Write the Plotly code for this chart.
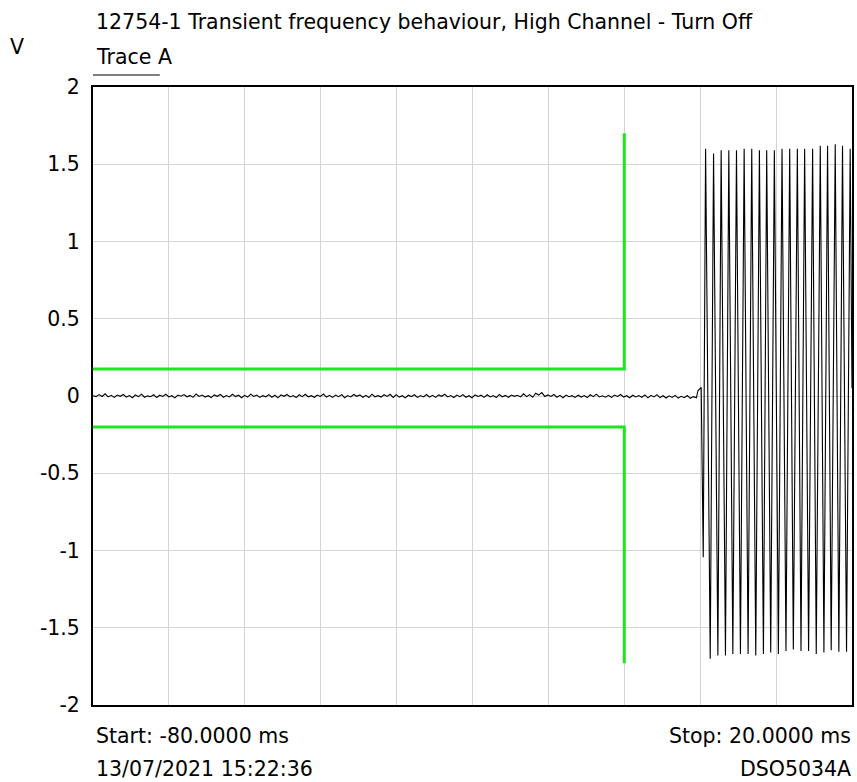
import numpy as np
import plotly.graph_objects as go

# ---------------- data ----------------
title_text = "12754-1 Transient frequency behaviour, High Channel - Turn Off"
trace_name = "Trace A"
y_unit = "V"
start_text = "Start: -80.0000 ms"
stop_text = "Stop: 20.0000 ms"
date_text = "13/07/2021 15:22:36"
scope_text = "DSO5034A"

y_tick_vals = [2, 1.5, 1, 0.5, 0, -0.5, -1, -1.5, -2]
y_tick_text = ["2", "1.5", "1", "0.5", "0", "-0.5", "-1", "-1.5", "-2"]

# flat noisy part before switch-off (V), -80 ms .. -0.5 ms
noise_v = [
    0.002, -0.004, 0.009, -0.003, 0.014, -0.006, 0.004, -0.009, 0.006, -0.002,
    0.010, -0.007, 0.003, -0.011, 0.007, -0.004, 0.012, -0.008, 0.001, -0.005,
    0.008, -0.010, 0.005, -0.003, 0.011, -0.006, 0.002, -0.012, 0.006, -0.001,
    0.009, -0.005, 0.004, -0.009, 0.013, -0.003, 0.006, -0.007, 0.002, -0.010,
    0.007, -0.002, 0.010, -0.008, 0.003, -0.006, 0.011, -0.004, 0.005, -0.011,
    0.004, -0.007, 0.012, -0.003, 0.006, -0.009, 0.002, -0.005, 0.009, -0.008,
    0.005, -0.012, 0.007, -0.002, 0.010, -0.006, 0.003, -0.010, 0.008, -0.004,
    0.011, -0.005, 0.002, -0.008, 0.006, -0.003, 0.013, -0.007, 0.004, -0.009,
    0.006, -0.004, 0.009, -0.011, 0.003, -0.006, 0.010, -0.002, 0.007, -0.008,
    0.004, -0.010, 0.012, -0.005, 0.002, -0.007, 0.008, -0.003, 0.011, -0.009,
    0.009, -0.007, 0.002, -0.012, 0.005, -0.004, 0.008, -0.009, 0.003, -0.006,
    0.010, -0.007, 0.004, -0.009, 0.007, -0.002, 0.011, -0.006, 0.003, -0.010,
    0.006, -0.004, 0.009, -0.008, 0.002, -0.011, 0.007, -0.003, 0.005, -0.009,
    0.008, -0.006, 0.003, -0.010, 0.010, -0.005, 0.004, -0.008, 0.006, -0.002,
    0.005, -0.006, 0.014, -0.004, 0.009, -0.008, 0.018, 0.006, 0.022, -0.003,
    0.007, -0.003, 0.010, -0.008, 0.004, -0.011, 0.006, -0.005, 0.002, -0.009,
    0.005, -0.007, 0.003, -0.010, 0.008, -0.004, 0.012, -0.006, 0.001, -0.008,
    0.004, -0.009, 0.006, -0.003, 0.010, -0.007, 0.002, -0.011, 0.005, -0.006,
    0.003, -0.008, 0.007, -0.012, 0.004, -0.006, 0.009, -0.010, 0.002, -0.013,
    0.001, -0.009, 0.004, -0.014, -0.002, -0.011, 0.003, -0.015, -0.004, -0.012,
]
noise_t = np.linspace(-80.0, -0.5, len(noise_v))

# switch-off transition (ms, V)
edge_t = [-0.3, 0.13, 0.40]
edge_v = [0.034, 0.056, -1.044]

# oscillation peaks (ms, V)
peak_t = [0.71, 1.76, 2.76, 3.77, 4.78, 5.79, 6.79, 7.80, 8.76, 9.77,
          10.78, 11.79, 12.80, 13.76, 14.81, 15.82, 16.78, 17.79, 18.75, 19.76]
peak_v = [1.60, 1.57, 1.59, 1.59, 1.59, 1.60, 1.60, 1.59, 1.59, 1.59,
          1.60, 1.60, 1.60, 1.60, 1.60, 1.62, 1.62, 1.63, 1.62, 1.60]
# oscillation troughs (ms, V)
trough_t = [1.32, 2.33, 3.33, 4.30, 5.30, 6.31, 7.32, 8.33, 9.29, 10.30,
            11.30, 12.27, 13.28, 14.28, 15.29, 16.30, 17.26, 18.27, 19.28]
trough_v = [-1.70, -1.68, -1.68, -1.67, -1.67, -1.67, -1.68, -1.67, -1.66, -1.67,
            -1.65, -1.64, -1.65, -1.65, -1.67, -1.66, -1.645, -1.655, -1.655]
end_t = [20.0]
end_v = [0.05]

# mask limits (ms, V)
mask_upper_t = [-80, -10, -10]
mask_upper_v = [0.175, 0.175, 1.70]
mask_lower_t = [-80, -10, -10]
mask_lower_v = [-0.20, -0.20, -1.73]

# ---------------- build signal ----------------
osc_t, osc_v = [], []
for i in range(len(peak_t)):
    osc_t.append(peak_t[i]); osc_v.append(peak_v[i])
    if i < len(trough_t):
        osc_t.append(trough_t[i]); osc_v.append(trough_v[i])

sig_t = list(noise_t) + edge_t + osc_t + end_t
sig_v = list(noise_v) + edge_v + osc_v + end_v

# ---------------- figure ----------------
W, H = 857, 782
ML, MR, MT, MB = 93, 3, 87, 77
PH = H - MT - MB
PW = W - ML - MR


def py(pix_y):
    return (H - MB - pix_y) / PH


def px(pix_x):
    return (pix_x - ML) / PW


FONT = "DejaVu Sans, Liberation Sans, sans-serif"
FS = 20.5
GREEN = "#1ee61e"

fig = go.Figure()
fig.add_trace(go.Scatter(x=mask_upper_t, y=mask_upper_v, mode="lines",
                         line=dict(color=GREEN, width=3), hoverinfo="skip"))
fig.add_trace(go.Scatter(x=mask_lower_t, y=mask_lower_v, mode="lines",
                         line=dict(color=GREEN, width=3), hoverinfo="skip"))
fig.add_trace(go.Scatter(x=sig_t, y=sig_v, mode="lines", name=trace_name,
                         line=dict(color="black", width=1.1)))

fig.update_layout(
    width=W, height=H,
    margin=dict(l=ML, r=MR, t=MT, b=MB),
    paper_bgcolor="white", plot_bgcolor="white",
    showlegend=False,
    font=dict(family=FONT, size=FS, color="black"),
)
fig.update_xaxes(range=[-80, 20], dtick=10, tick0=-80, showticklabels=False,
                 showgrid=True, gridcolor="#d4d4d4", gridwidth=1,
                 zeroline=False, showline=True, linecolor="black", linewidth=2,
                 mirror=True, ticks="")
fig.update_yaxes(range=[-2, 2], tickvals=y_tick_vals, ticktext=y_tick_text,
                 showgrid=True, gridcolor="#d4d4d4", gridwidth=1,
                 zeroline=False, showline=True, linecolor="black", linewidth=2,
                 mirror=True, ticks="", ticklabelstandoff=7,
                 tickfont=dict(size=FS))

ann = dict(xref="paper", yref="paper", showarrow=False,
           font=dict(family=FONT, size=FS, color="black"))
fig.add_annotation(text=title_text, x=px(94), y=py(22), xanchor="left", yanchor="middle", **ann)
fig.add_annotation(text=y_unit, x=px(8), y=py(47), xanchor="left", yanchor="middle", **ann)
fig.add_annotation(text=trace_name, x=px(94), y=py(57), xanchor="left", yanchor="middle", **ann)
fig.add_annotation(text=start_text, x=px(94), y=py(736), xanchor="left", yanchor="middle", **ann)
fig.add_annotation(text=date_text, x=px(94), y=py(769), xanchor="left", yanchor="middle", **ann)
fig.add_annotation(text=stop_text, x=px(855), y=py(736), xanchor="right", yanchor="middle", **ann)
fig.add_annotation(text=scope_text, x=px(855), y=py(769), xanchor="right", yanchor="middle", **ann)

fig.add_shape(type="line", xref="paper", yref="paper",
              x0=px(93), x1=px(160), y0=py(75), y1=py(75),
              line=dict(color="black", width=1))

fig.write_html("out.html", config={"displayModeBar": False},
               post_script="document.body.style.margin='0';document.body.style.overflow='hidden';")
